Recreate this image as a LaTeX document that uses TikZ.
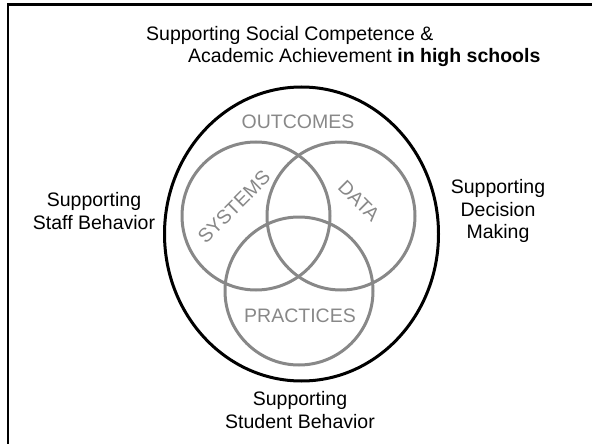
\documentclass[tikz,border=0pt]{standalone}
\usepackage{fontspec}
\setmainfont{Liberation Sans}
\definecolor{venngray}{RGB}{136,136,136}

\begin{document}
\begin{tikzpicture}[x=1pt, y=-1pt,
    txt/.style={font=\fontsize{19.5}{22.5}\selectfont, align=center, inner sep=0pt},
    tag/.style={txt, text=venngray},
    ring/.style={circle, draw=venngray, line width=3pt, minimum size=148pt, inner sep=0pt}]
            \useasboundingbox (0,0) rectangle (592,444);
            \draw[line width=2.5pt] (8,444) -- (8,4.5) -- (592,4.5);
            % title
            \node[txt, anchor=base west] (title1) at (146,41) {Supporting Social Competence \&};
            \node[txt, anchor=base west] (title2) at (188,63) {Academic Achievement \textbf{in high schools}};
            % outer ring and the three circles
            \draw[line width=3pt] (301.5,234) ellipse (137pt and 147pt);
            \node[ring] (systems) at (256,216) {};
            \node[ring] (data) at (341,216) {};
            \node[ring] (practices) at (299,291) {};
            \node[tag] (outcomes) at (298,122) {OUTCOMES};
            \node[tag, rotate=45] (systemstext) at (234,207) {SYSTEMS};
            \node[tag, rotate=-45] (datatext) at (359,201) {DATA};
            \node[tag] (practicestext) at (300,316) {PRACTICES};
            % outside labels
            \node[txt] (staff) at (94,211) {Supporting\\Staff Behavior};
            \node[txt] (decision) at (498,211) {Supporting\\Decision\\Making};
            \node[txt] (student) at (300,410) {Supporting\\Student Behavior};
\end{tikzpicture}
\end{document}
